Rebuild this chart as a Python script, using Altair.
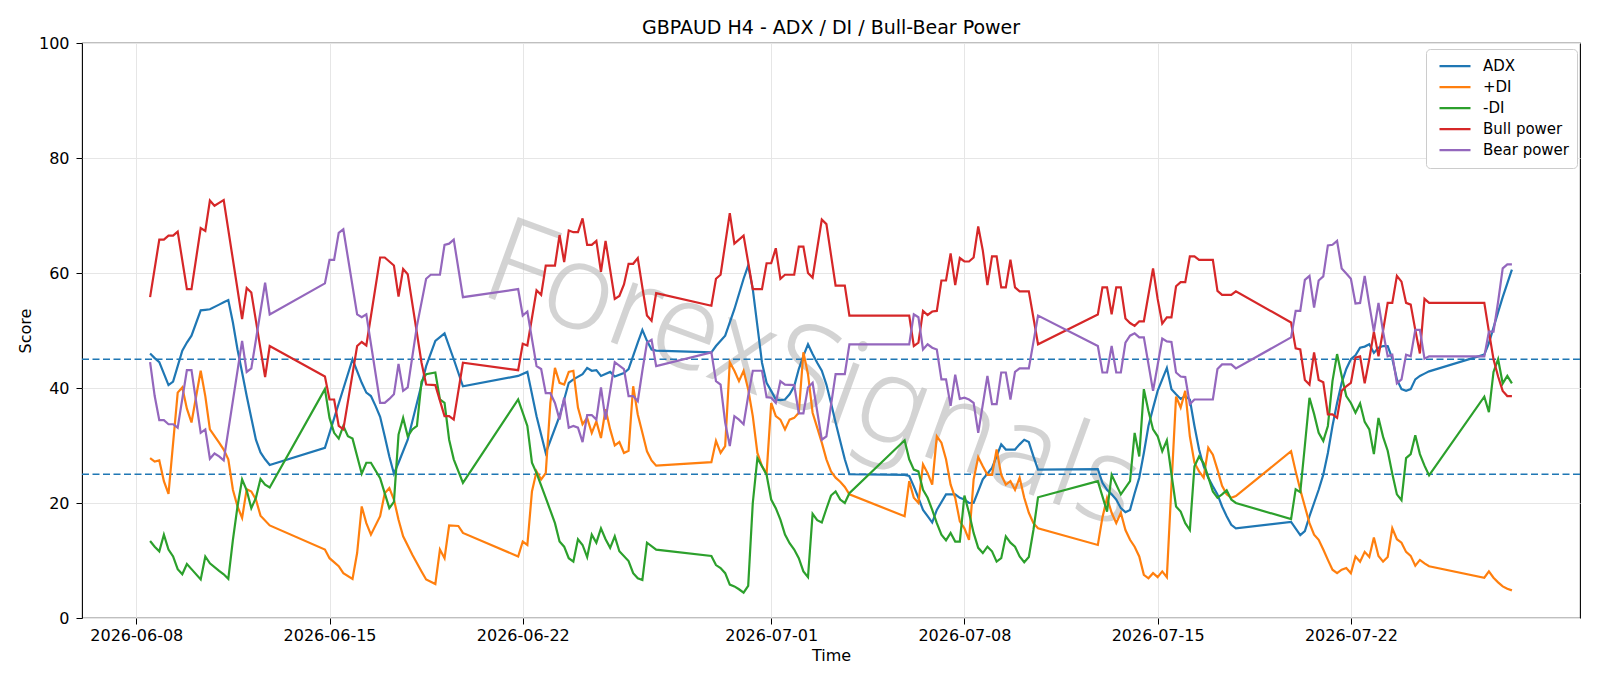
import altair as alt
import pandas as pd

# ---- data: (hours after 2026-06-08 00:00, value) ----
BASE = "2026-06-08 00:00"
SERIES = ["ADX", "+DI", "-DI", "Bull power", "Bear power"]
COLORS = ["#1f77b4", "#ff7f0e", "#2ca02c", "#d62728", "#9467bd"]
THRESHOLDS = [25, 45]
TICK_DATES = [(2026, 6, 8), (2026, 6, 15), (2026, 6, 22), (2026, 7, 1),
              (2026, 7, 8), (2026, 7, 15), (2026, 7, 22)]
WATERMARK = "ForexSignals"

ADX = [(12,46.0),(16,45.2),(20,44.5),(28,40.5),(32,41.1),(40,46.5),(44,47.9),(48,49.1),(56,53.5),(60,53.6),
       (64,53.7),(72,54.5),(76,54.9),(80,55.3),(84,51.4),(88,46.7),(92,42.7),(96,38.6),(100,34.8),(104,31.0),
       (108,28.8),(112,27.6),(116,26.6),(164,29.6),(188,45.0),(196,40.9),(200,39.2),(204,38.6),(208,36.9),
       (212,35.0),(216,31.6),(220,28.1),(224,25.1),(228,27.0),(236,31.0),(244,37.4),(252,43.8),(260,48.2),
       (268,49.5),(276,45.0),(284,40.3),(332,42.1),(340,42.8),(348,35.1),(356,28.7),(368,35.1),(376,40.9),
       (380,41.5),(388,42.4),(392,43.5),(396,43.0),(400,43.1),(404,42.1),(412,42.8),(416,42.0),(424,42.6),
       (428,43.3),(432,45.6),(436,47.9),(440,50.1),(444,48.2),(448,46.7),(452,46.5),(500,46.2),(504,47.3),
       (512,49.1),(520,53.7),(528,59.0),(532,61.3),(536,57.2),(540,50.8),(544,44.4),(548,40.9),(552,39.5),
       (556,38.0),(560,37.9),(564,38.0),(568,38.9),(572,40.3),(576,43.3),(580,45.6),(584,47.6),(588,45.9),
       (592,44.4),(596,43.0),(600,40.6),(604,37.4),(608,34.0),(612,30.8),(616,27.6),(620,25.0),
       (668,24.9),(672,24.7),(676,22.9),(680,20.9),(684,18.8),(688,17.7),(692,16.6),(696,18.8),(704,21.5),
       (712,21.5),(716,20.9),(720,20.6),(724,20.0),(728,20.0),(736,24.1),(744,26.1),(752,30.2),(756,29.3),
       (764,29.3),(768,30.2),(772,31.0),(776,30.6),(780,28.1),(784,25.8),(836,25.9),(840,23.5),(844,22.3),
       (848,21.5),(852,20.6),(856,19.1),(860,18.4),(864,18.8),(868,21.7),(872,24.4),(876,28.7),(880,33.4),
       (884,36.5),(888,39.5),(892,41.5),(896,43.5),(900,39.8),(904,38.9),(908,38.1),(912,38.6),(916,38.0),
       (920,33.4),(924,29.3),(928,26.4),(932,24.4),(936,22.9),(940,21.5),(944,19.4),(948,17.7),(952,16.2),
       (956,15.6),(1004,16.7),(1012,14.4),(1016,15.1),(1020,17.7),(1024,20.0),(1028,22.3),(1032,24.9),
       (1036,28.7),(1040,33.4),(1044,37.4),(1048,40.9),(1052,43.3),(1056,45.0),(1060,45.7),(1064,47.0),
       (1068,47.2),(1072,47.6),(1076,46.1),(1080,47.0),(1084,47.3),(1088,47.3),(1092,45.1),(1096,41.5),
       (1100,39.8),(1104,39.5),(1108,39.8),(1112,41.5),(1116,42.1),(1120,42.5),(1124,42.9),(1172,45.8),
       (1176,47.8),(1180,50.5),(1184,53.2),(1188,55.8),(1192,58.2),(1196,60.6)]

PLUS_DI = [(12,27.8),(16,27.2),(20,27.4),(24,23.8),(28,21.6),(36,39.2),(40,40.1),(44,36.4),(48,34.0),(56,43.0),
       (60,38.6),(64,32.8),(72,30.5),(76,29.3),(80,27.6),(84,22.3),(88,19.4),(92,17.4),(96,22.4),(100,22.0),
       (104,20.6),(108,17.8),(116,16.1),(164,11.9),(168,10.4),(176,9.0),(180,7.8),(188,6.8),(192,11.3),
       (196,19.4),(200,16.5),(204,14.5),(212,17.7),(216,21.7),(220,22.6),(224,20.6),(228,17.1),(232,14.2),
       (240,11.0),(248,8.1),(252,6.7),(260,5.9),(264,11.9),(268,10.4),(272,16.1),(280,16.0),(284,14.8),
       (332,10.7),(336,13.3),(340,12.7),(344,22.0),(348,25.5),(352,24.1),(356,25.2),(360,37.4),(364,43.5),
       (368,40.9),(372,40.6),(376,42.8),(380,43.0),(384,36.6),(388,33.7),(392,34.8),(396,32.2),(400,34.2),
       (404,31.3),(408,36.3),(412,32.8),(416,30.0),(420,30.6),(424,28.7),(428,29.1),(432,40.3),(436,35.4),
       (440,32.2),(444,29.0),(448,27.4),(452,26.5),(500,27.1),(504,30.8),(508,28.7),(512,29.9),(516,44.5),
       (520,43.0),(524,41.2),(528,43.0),(532,39.8),(536,35.1),(540,28.7),(544,26.4),(548,25.1),(552,37.4),
       (556,35.1),(560,34.5),(564,32.8),(568,34.5),(572,34.8),(576,35.7),(580,46.2),(584,42.4),(588,35.7),
       (592,33.1),(596,30.5),(600,27.6),(604,25.5),(608,24.4),(612,23.7),(616,22.8),(620,21.5),(668,17.7),
       (672,23.8),(676,20.9),(680,20.0),(684,26.7),(688,25.2),(692,23.2),(696,31.6),(700,30.5),(704,27.6),
       (708,23.2),(712,20.9),(716,16.8),(720,15.6),(724,13.6),(728,24.1),(732,28.0),(736,26.4),(740,24.9),
       (744,24.9),(748,29.3),(752,24.9),(756,23.2),(760,23.8),(764,22.3),(768,24.4),(772,20.9),(776,18.3),
       (780,16.5),(784,15.6),(836,12.7),(840,17.5),(844,20.9),(848,18.3),(852,16.5),(856,18.3),(860,15.3),
       (864,13.6),(868,12.4),(872,10.7),(876,7.5),(880,6.9),(884,7.8),(888,7.1),(892,8.1),(896,7.1),
       (900,23.0),(904,38.5),(908,36.6),(912,39.5),(916,31.6),(920,27.0),(924,25.5),(928,24.4),(932,29.6),
       (936,28.4),(940,25.8),(944,23.0),(948,21.5),(952,20.9),(956,21.2),(1004,29.0),(1008,25.5),(1012,22.3),
       (1016,19.4),(1020,16.5),(1024,14.5),(1028,13.6),(1032,11.9),(1036,10.1),(1040,8.4),(1044,7.8),
       (1048,8.4),(1052,8.7),(1056,7.8),(1060,10.7),(1064,9.8),(1068,11.5),(1072,10.6),(1076,14.0),
       (1080,10.8),(1084,9.8),(1088,10.6),(1092,15.6),(1096,13.7),(1100,13.1),(1104,11.5),(1108,10.8),
       (1112,9.1),(1116,10.1),(1120,9.5),(1124,9.0),(1172,7.0),(1176,8.1),(1180,7.0),(1184,6.2),(1188,5.5),
       (1192,5.1),(1196,4.8)]

MINUS_DI = [(12,13.4),(16,12.4),(20,11.6),(24,14.5),(28,11.9),(32,10.7),(36,8.5),(40,7.6),(44,9.4),(48,8.5),
       (56,6.7),(60,10.7),(64,9.5),(72,8.2),(76,7.6),(80,6.8),(84,13.6),(88,19.4),(92,24.1),(96,22.2),
       (100,19.1),(104,20.9),(108,24.2),(112,23.2),(116,22.7),(164,39.8),(168,34.8),(172,32.2),(176,31.2),
       (180,33.4),(184,31.6),(188,31.2),(196,25.1),(200,27.0),(204,27.0),(212,24.3),(220,19.1),(224,20.2),
       (228,31.9),(232,34.8),(236,31.6),(240,32.8),(244,33.4),(248,41.1),(252,42.4),(260,42.7),(264,38.0),
       (268,37.4),(272,31.0),(276,27.6),(284,23.5),(332,38.0),(340,33.4),(344,27.0),(348,25.2),(356,20.9),
       (364,16.5),(368,13.3),(372,12.4),(376,10.4),(380,9.8),(384,13.7),(388,12.7),(392,10.6),(396,14.5),
       (400,13.1),(404,15.6),(408,13.7),(412,12.2),(416,14.2),(420,11.6),(428,9.9),(432,7.8),(436,6.9),
       (440,6.6),(444,13.1),(452,11.9),(500,10.8),(504,9.2),(508,8.7),(512,7.8),(516,5.8),(520,5.5),
       (524,5.0),(528,4.4),(532,5.6),(536,20.0),(540,27.8),(544,26.4),(548,24.9),(552,20.6),(556,19.1),
       (560,17.1),(564,14.5),(568,13.0),(572,11.9),(576,10.4),(580,8.1),(584,7.1),(588,18.1),(592,17.0),
       (596,16.6),(600,19.0),(604,21.3),(608,22.0),(612,20.6),(616,20.0),(620,21.7),(668,30.9),(672,27.6),
       (676,25.8),(680,25.5),(684,22.3),(688,20.9),(692,18.8),(696,16.5),(700,14.5),(704,13.5),(708,14.8),
       (712,13.3),(716,13.3),(720,21.3),(724,18.3),(728,14.8),(732,12.2),(736,11.3),(740,12.4),(744,11.6),
       (748,9.8),(752,10.4),(756,14.2),(760,13.1),(764,12.4),(768,10.7),(772,9.7),(776,10.6),(780,15.3),
       (784,21.0),(836,23.8),(844,18.5),(848,24.9),(856,21.5),(864,23.8),(868,32.2),(872,28.1),(876,39.8),
       (880,36.0),(884,32.8),(888,31.6),(892,29.0),(896,30.9),(900,25.0),(904,19.4),(908,18.5),(912,16.5),
       (916,15.3),(920,26.4),(924,28.1),(928,26.9),(932,24.5),(936,22.0),(940,20.9),(944,21.5),(948,22.2),
       (952,20.6),(956,20.0),(1004,17.2),(1008,22.4),(1012,21.9),(1016,30.0),(1020,38.3),(1024,35.5),
       (1028,32.2),(1032,30.8),(1036,33.4),(1040,41.2),(1044,45.9),(1048,42.1),(1052,38.6),(1056,37.4),
       (1060,35.7),(1064,37.3),(1068,34.1),(1072,32.8),(1076,28.5),(1080,34.8),(1084,31.5),(1088,29.1),
       (1092,25.1),(1096,21.5),(1100,20.5),(1104,27.8),(1108,28.5),(1112,31.8),(1116,28.5),(1120,26.5),
       (1124,24.8),(1172,38.5),(1176,35.8),(1180,42.8),(1184,45.0),(1188,40.8),(1192,42.1),(1196,40.8)]

BULL = [(12,55.8),(20,65.8),(24,65.8),(28,66.5),(32,66.5),(36,67.2),(44,57.2),(48,57.2),(56,67.8),(60,67.3),
       (64,72.6),(68,71.7),(72,72.2),(76,72.7),(92,52.0),(96,57.4),(100,56.6),(112,41.9),(116,47.3),
       (164,42.0),(168,38.0),(172,38.0),(176,33.4),(180,32.8),(192,47.3),(196,48.0),(200,47.4),(212,62.7),
       (216,62.7),(224,61.3),(228,55.9),(232,60.7),(236,59.8),(248,44.4),(252,40.6),(260,40.5),(268,35.1),
       (272,35.1),(276,34.5),(284,44.4),(332,43.1),(336,47.7),(340,47.4),(348,57.0),(352,56.2),(356,61.3),
       (364,61.3),(368,66.6),(372,61.9),(376,67.4),(380,67.1),(384,67.1),(388,69.5),(392,64.9),(396,64.9),
       (400,65.6),(404,60.2),(408,65.6),(416,55.5),(420,56.0),(424,58.0),(428,61.6),(432,61.6),(436,62.6),
       (440,57.5),(444,52.6),(448,51.7),(452,56.5),(500,54.3),(504,59.0),(508,59.7),(516,70.4),(520,65.1),
       (528,66.5),(536,57.2),(544,57.2),(548,61.7),(552,61.7),(556,64.3),(560,59.0),(564,59.7),(572,59.7),
       (576,64.6),(580,64.6),(584,60.0),(588,59.2),(596,69.3),(600,68.5),(608,57.8),(616,57.8),(620,52.6),
       (668,52.6),(672,52.6),(676,47.3),(680,47.9),(684,53.4),(688,52.7),(692,53.3),(696,53.4),(700,58.7),
       (704,58.7),(708,63.4),(712,57.9),(716,62.6),(720,62.0),(724,62.0),(728,62.7),(732,68.1),(736,63.9),
       (740,57.9),(744,62.9),(748,62.9),(752,57.5),(756,57.5),(760,62.3),(764,57.5),(768,56.8),(776,56.8),
       (784,47.6),(836,52.8),(840,57.5),(844,57.5),(848,52.8),(852,57.5),(856,57.5),(860,52.1),(864,51.3),
       (868,50.8),(872,51.6),(876,51.6),(884,60.8),(888,55.5),(892,51.2),(896,52.3),(900,52.3),(904,57.7),
       (908,58.4),(912,58.4),(916,62.9),(920,62.9),(924,62.3),(936,62.3),(940,56.9),(944,56.2),(952,56.2),
       (956,56.8),(1004,51.4),(1008,46.9),(1012,46.7),(1016,41.4),(1020,40.6),(1024,46.2),(1028,41.4),
       (1032,41.0),(1036,35.4),(1040,35.4),(1044,34.8),(1048,39.5),(1052,40.3),(1056,40.9),(1060,45.3),
       (1064,45.5),(1068,40.8),(1072,45.0),(1076,49.8),(1080,45.5),(1084,50.0),(1088,54.8),(1092,54.8),
       (1096,59.5),(1100,58.5),(1104,54.8),(1108,54.5),(1112,50.1),(1116,46.0),(1120,55.5),(1124,54.8),
       (1172,54.8),(1176,49.8),(1180,45.0),(1184,42.0),(1188,39.5),(1192,38.6),(1196,38.6)]

BEAR = [(12,44.5),(16,38.6),(20,34.4),(24,34.4),(28,33.7),(32,33.7),(36,33.1),(44,43.1),(48,43.1),(56,32.2),
       (60,32.8),(64,27.7),(68,28.6),(72,28.1),(76,27.4),(92,48.2),(96,42.8),(100,43.4),(112,58.3),(116,52.8),
       (164,58.2),(168,62.3),(172,62.3),(176,67.0),(180,67.6),(192,52.8),(196,52.3),(200,52.8),(212,37.4),
       (216,37.4),(220,38.1),(224,38.9),(228,44.2),(232,39.5),(236,40.1),(244,50.8),(252,59.0),(256,59.7),
       (264,59.7),(268,64.9),(272,65.1),(276,65.8),(284,55.8),(332,57.2),(336,52.6),(340,53.3),(348,43.8),
       (352,43.3),(356,39.1),(360,39.1),(364,37.4),(368,34.5),(372,38.3),(376,33.1),(380,33.4),(384,33.1),
       (388,30.6),(392,35.3),(396,35.3),(400,34.5),(404,40.1),(408,34.5),(416,44.5),(424,43.3),(428,38.6),
       (432,38.6),(436,37.7),(440,43.0),(444,47.9),(448,48.4),(452,43.8),(500,46.2),(504,41.2),(508,40.6),
       (512,34.0),(516,29.9),(520,35.1),(524,34.5),(528,33.7),(532,38.6),(536,43.0),(544,43.0),(548,38.4),
       (552,38.3),(556,37.4),(560,41.2),(564,40.6),(572,40.5),(576,35.6),(580,35.6),(584,40.1),(588,40.9),
       (596,31.0),(600,31.6),(608,42.4),(616,42.4),(620,47.6),(668,47.6),(672,47.6),(676,52.8),(680,52.3),
       (684,46.7),(688,47.6),(692,47.0),(696,46.7),(700,41.5),(704,41.5),(708,36.9),(712,42.3),(716,38.1),
       (720,38.3),(724,38.0),(728,37.4),(732,32.2),(740,42.1),(744,37.2),(748,37.2),(752,42.7),(756,42.7),
       (760,38.0),(764,42.8),(768,43.4),(776,43.4),(784,52.6),(836,47.3),(840,42.7),(844,42.7),(848,47.3),
       (852,42.7),(856,42.7),(860,47.9),(864,49.1),(868,49.5),(872,48.8),(876,48.8),(884,39.5),(888,44.0),
       (892,48.6),(896,48.1),(900,48.0),(904,42.7),(908,42.0),(912,41.9),(916,37.2),(920,38.0),(932,38.0),
       (936,38.0),(940,43.3),(944,44.1),(952,44.1),(956,43.4),(1004,48.8),(1008,53.4),(1012,53.4),(1016,58.8),
       (1020,59.5),(1024,54.0),(1028,58.7),(1032,59.4),(1036,64.8),(1040,64.9),(1044,65.6),(1048,60.8),
       (1052,59.9),(1056,59.0),(1060,54.7),(1064,54.8),(1068,59.5),(1072,54.5),(1076,49.8),(1080,54.8),
       (1084,49.8),(1088,45.5),(1092,45.8),(1096,40.8),(1100,41.5),(1104,45.8),(1108,45.5),(1112,50.1),
       (1116,50.1),(1120,45.1),(1124,45.5),(1172,45.5),(1176,49.8),(1180,49.8),(1184,55.0),(1188,60.8),
       (1192,61.5),(1196,61.5)]

# ---- build long table ----
base = pd.Timestamp(BASE)
rows = []
for name, pairs in zip(SERIES, [ADX, PLUS_DI, MINUS_DI, BULL, BEAR]):
    for h, v in pairs:
        rows.append({"series": name, "time": base + pd.Timedelta(hours=h), "value": v})
df = pd.DataFrame(rows)

FONT = "DejaVu Sans"
x_domain = [alt.DateTime(year=2026, month=6, date=6, hours=0, minutes=48),
            alt.DateTime(year=2026, month=7, date=30, hours=7, minutes=12)]
tick_vals = [alt.DateTime(year=y, month=m, date=d) for (y, m, d) in TICK_DATES]

x_enc = alt.X("time:T", scale=alt.Scale(domain=x_domain),
              axis=alt.Axis(values=tick_vals, format="%Y-%m-%d", title="Time", grid=True))
y_enc = alt.Y("value:Q", scale=alt.Scale(domain=[0, 100]),
              axis=alt.Axis(values=[0, 20, 40, 60, 80, 100], title="Score", grid=True))

watermark = alt.Chart(pd.DataFrame({"t": [WATERMARK]})).mark_text(
    angle=20, fontSize=120, font="Noto Sans", fontWeight=300, color="#bdbdbd", opacity=0.65,
    align="center", baseline="middle"
).encode(x=alt.value(730), y=alt.value(334), text="t:N")

rules = alt.Chart(pd.DataFrame({"y": THRESHOLDS})).mark_rule(
    color="#1f77b4", strokeWidth=1.5, strokeDash=[7, 3.5]
).encode(y=alt.Y("y:Q", scale=alt.Scale(domain=[0, 100])))

lines = alt.Chart(df).mark_line(strokeWidth=2.2).encode(
    x=x_enc, y=y_enc,
    color=alt.Color("series:N", sort=SERIES,
                    scale=alt.Scale(domain=SERIES, range=COLORS),
                    legend=alt.Legend(title=None, orient="none", legendX=1344, legendY=6,
                                      fillColor="white", strokeColor="#cccccc", cornerRadius=4,
                                      padding=7, labelFontSize=15, labelFont=FONT, labelColor="black",
                                      symbolType="stroke", symbolStrokeWidth=2.2, symbolSize=961,
                                      symbolOffset=5, labelOffset=11, rowPadding=0, clipHeight=20.4)),
)

chart = alt.layer(watermark, rules, lines).properties(
    width=1498, height=575,
    title=alt.TitleParams("GBPAUD H4 - ADX / DI / Bull-Bear Power", fontSize=19, font=FONT,
                          fontWeight="normal", color="black", offset=-3, anchor="middle"),
    autosize=alt.AutoSizeParams(type="none"),
    padding={"left": 82, "top": 43, "right": 20, "bottom": 68},
).configure_view(stroke="black", strokeWidth=1.1).configure_axis(
    labelFont=FONT, labelFontSize=16, labelColor="black", tickColor="black", tickSize=6,
    domain=False, gridColor="#e6e6e6", gridWidth=1, titleFont=FONT, titleFontSize=16,
    titleFontWeight="normal", titleColor="black",
).configure_axisX(titlePadding=4, labelPadding=3).configure_axisY(titlePadding=5, labelPadding=7)

chart.save("out.html", embed_options={"renderer": "svg", "actions": False})
